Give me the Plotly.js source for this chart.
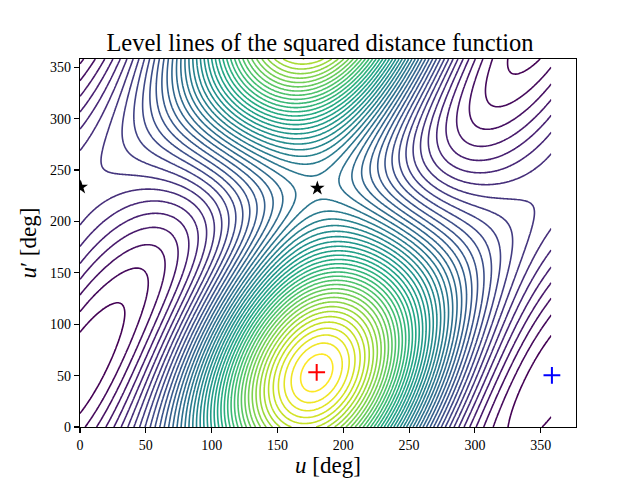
<!DOCTYPE html>
<html><head><meta charset="utf-8">
<script src="https://cdn.plot.ly/plotly-3.0.1.min.js"></script>
<style>body{margin:0}</style>
</head><body><div id="chart" style="width:640px;height:480px"></div>
<script>
// Orbit 1: [semi-major axis, eccentricity]
const orbit1 = [1.0, 0.5845];
// Orbit 2: [semi-major axis, eccentricity, inclination, node, argument of pericentre] (deg)
const orbit2 = [0.3660, 0.0, 33.44, 177.68, 129.21];
// Critical points (u, u') in deg
const maxPointU = [179.8], maxPointUp = [53.2];
const minPointU = [358.5], minPointUp = [50.3];
const saddleU = [0.5, 180.3], saddleUp = [233.3, 232.3];
// Points on the innermost level line around the maximum
const innerLevelU = [167.1, 192.4, 179.8, 179.8];
const innerLevelUp = [57.4, 57.4, 71.9, 42.8];
// Number of level lines between the saddle at u=180 and the maximum
const linesSaddleToMax = 29;
const tickVals = [0, 50, 100, 150, 200, 250, 300, 350];
const gridMax = 358;

const DEG = Math.PI / 180;
function squaredDistance(o1, o2) {
  const e1 = o1[1], a1 = o1[0], b1 = a1 * Math.sqrt(1 - e1 * e1);
  const a2 = o2[0], e2 = o2[1], inc = o2[2] * DEG, Om = o2[3] * DEG, om = o2[4] * DEG;
  const cO = Math.cos(Om), sO = Math.sin(Om), co = Math.cos(om), so = Math.sin(om), ci = Math.cos(inc), si = Math.sin(inc);
  const P = [cO * co - sO * so * ci, sO * co + cO * so * ci, so * si];
  const Q = [-cO * so - sO * co * ci, -sO * so + cO * co * ci, co * si];
  const b2 = a2 * Math.sqrt(1 - e2 * e2);
  return function (uDeg, vDeg) {
    const u = uDeg * DEG, v = vDeg * DEG;
    const x1 = a1 * (Math.cos(u) - e1), y1 = b1 * Math.sin(u);
    const cv = a2 * (Math.cos(v) - e2), sv = b2 * Math.sin(v);
    const X = cv * P[0] + sv * Q[0], Y = cv * P[1] + sv * Q[1], Z = cv * P[2] + sv * Q[2];
    const dx = x1 - X, dy = y1 - Y;
    return dx * dx + dy * dy + Z * Z;
  };
}
const d2 = squaredDistance(orbit1, orbit2);
const uGrid = [], vGrid = [];
for (let i = 0; i <= gridMax; i++) { uGrid.push(i); vGrid.push(i); }
const zGrid = vGrid.map(v => uGrid.map(u => d2(u, v)));

const zMaxV = d2(maxPointU[0], maxPointUp[0]);
const zMinV = d2(minPointU[0], minPointUp[0]);
const zSaddle2 = d2(saddleU[1], saddleUp[1]);
const levelStep = (zMaxV - zSaddle2) / linesSaddleToMax;
let innerLevel = 0;
for (let k = 0; k < innerLevelU.length; k++) innerLevel += d2(innerLevelU[k], innerLevelUp[k]) / innerLevelU.length;
const nBelow = Math.floor((innerLevel - zMinV) / levelStep);
const firstLevel = innerLevel - nBelow * levelStep;

const viridis = [[0, '#440154'], [0.1, '#482475'], [0.2, '#414487'], [0.3, '#355f8d'], [0.4, '#2a788e'], [0.5, '#21918c'], [0.6, '#22a884'], [0.7, '#44bf70'], [0.8, '#7ad151'], [0.9, '#bddf26'], [1, '#fde725']];
const axisCommon = {
  tickvals: tickVals, ticks: 'outside', ticklen: 5, tickwidth: 1.1, tickcolor: 'black',
  showgrid: false, zeroline: false, showline: true, linewidth: 1.1, linecolor: 'black', mirror: true,
  tickfont: { size: 14 }
};
Plotly.newPlot('chart', [
  { type: 'contour', x: uGrid, y: vGrid, z: zGrid, autocontour: false,
    contours: { coloring: 'lines', start: firstLevel, end: innerLevel + levelStep * 0.01, size: levelStep },
    line: { width: 1.6, smoothing: 0.8 }, colorscale: viridis, zmin: firstLevel, zmax: innerLevel,
    showscale: false, hoverinfo: 'skip' },
  { type: 'scatter', mode: 'markers', x: saddleU, y: saddleUp, marker: { symbol: 'star', size: 11, color: 'black' } },
  { type: 'scatter', mode: 'markers', x: maxPointU, y: maxPointUp, marker: { symbol: 'cross-thin', size: 12, line: { color: 'red', width: 2 } } },
  { type: 'scatter', mode: 'markers', x: minPointU, y: minPointUp, marker: { symbol: 'cross-thin', size: 12, line: { color: 'blue', width: 2 } } }
], {
  width: 640, height: 480, margin: { l: 80, r: 64, t: 59, b: 53 }, showlegend: false,
  paper_bgcolor: 'white', plot_bgcolor: 'white',
  font: { family: 'Liberation Serif, serif', color: 'black' },
  title: { text: 'Level lines of the squared distance function', font: { size: 24.5 }, x: 0.5, xanchor: 'center', y: 0.912, yanchor: 'middle' },
  xaxis: Object.assign({ range: [0, 376.8], title: { text: '<i>u</i> [deg]', font: { size: 23 }, standoff: 5 } }, axisCommon),
  yaxis: Object.assign({ range: [0, 358], title: { text: '<i>u</i>′ [deg]', font: { size: 23 }, standoff: 7 } }, axisCommon)
}, { staticPlot: true });
</script></body></html>
